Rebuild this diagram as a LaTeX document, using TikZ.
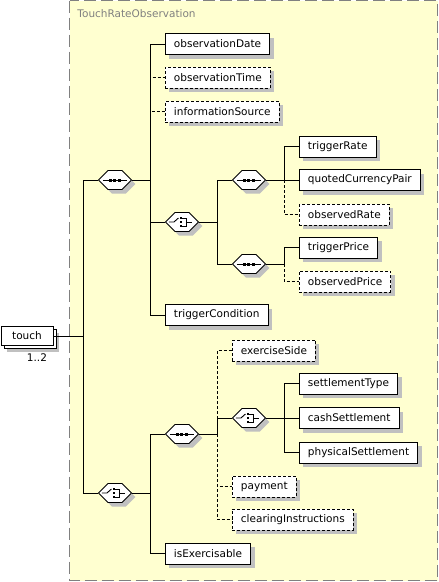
\documentclass[tikz,border=0pt]{standalone}
\usepackage{fontspec}
\setmainfont{DejaVu Sans}
\usetikzlibrary{shapes.misc,shadows}
\definecolor{schemabg}{RGB}{255,255,208}
\definecolor{framegray}{RGB}{128,128,128}
\definecolor{shadowgray}{RGB}{192,192,192}
\begin{document}
\begin{tikzpicture}[x=1pt, y=-1pt, line width=.9pt, line join=miter,
	font=\fontsize{10.5}{12}\selectfont,
	opt/.style={dash pattern=on 3pt off 2pt},
	boxshadow/.style={drop shadow={shadow xshift=4pt, shadow yshift=-4pt, fill=shadowgray, draw=none, opacity=1}},
	elem/.style={draw, fill=white, anchor=west, minimum height=21pt, inner xsep=8.5pt, inner ysep=0pt, boxshadow},
	optelem/.style={elem, opt},
	comp/.style={draw, fill=white, anchor=west, chamfered rectangle, chamfered rectangle angle=45,
		chamfered rectangle sep=5pt, minimum size=0pt, inner xsep=12pt, inner ysep=4.5pt, boxshadow},
	seqbox/.style={comp, path picture={
		\coordinate (pc) at (path picture bounding box.center);
		\draw[black] ([xshift=-12pt]pc) -- ([xshift=12pt]pc);
		\foreach \d in {-4.5,0,4.5} \fill[black] ([xshift=\d pt]pc) +(-1.5pt,-1.5pt) rectangle +(1.5pt,1.5pt);
	}},
	choicebox/.style={comp, path picture={
		\coordinate (pc) at (path picture bounding box.center);
		\draw[black] ([xshift=-13pt]pc) -- ([xshift=-8pt]pc) -- ([xshift=-3.5pt,yshift=4pt]pc);
		\foreach \d in {-4,0,4} \fill[black] ([xshift=-1pt,yshift=\d pt]pc) +(-1.4pt,-1.4pt) rectangle +(1.4pt,1.4pt);
		\draw[black] ([xshift=0pt,yshift=4pt]pc) -| ([xshift=4pt,yshift=-4pt]pc) -- ([xshift=0pt,yshift=-4pt]pc);
		\draw[black] ([xshift=4pt]pc) -- ([xshift=10pt]pc);
	}}]
	\useasboundingbox (0,0) rectangle (439,582);
	% complex type frame
	\draw[framegray, fill=schemabg, line width=1.3pt, dash pattern=on 12pt off 5pt] (69.7,0.7) rectangle (437.7,580.7);
	\node[anchor=west, inner sep=0pt, text=framegray] (typename) at (77,14) {TouchRateObservation};
	% element with max occurs 2
	\node[draw, fill=white, anchor=west, minimum width=52pt, minimum height=19pt, inner sep=0pt,
		drop shadow={shadow xshift=6.5pt, shadow yshift=-6.5pt, fill=shadowgray, draw=none, opacity=1},
		copy shadow={shadow xshift=3pt, shadow yshift=-3pt, draw=black, fill=white}] (touch) at (0.5,336) {touch};
	\node[inner sep=0pt] (touchocc) at (37,358) {1..2};
	% compositors
	\node[seqbox] (seq1) at (98,180) {};
	\node[choicebox] (ch2) at (98,493) {};
	\node[choicebox] (ch1) at (165,222) {};
	\node[seqbox] (seq2) at (232,180) {};
	\node[seqbox] (seq3) at (232,264) {};
	\node[seqbox] (seq4) at (165,434) {};
	\node[choicebox] (ch3) at (232,418) {};
	% elements
	\node[elem] (obsDate) at (165,44) {observationDate};
	\node[optelem] (obsTime) at (165,77.5) {observationTime};
	\node[optelem] (infoSource) at (165,111.5) {informationSource};
	\node[elem] (trigCond) at (165,315) {triggerCondition};
	\node[elem] (trigRate) at (299,146.5) {triggerRate};
	\node[elem] (quotedPair) at (299,180) {quotedCurrencyPair};
	\node[optelem] (obsRate) at (299,214.5) {observedRate};
	\node[elem] (trigPrice) at (299,247.5) {triggerPrice};
	\node[optelem] (obsPrice) at (299,281.5) {observedPrice};
	\node[optelem] (exSide) at (232,350.5) {exerciseSide};
	\node[elem] (settleType) at (299,383.5) {settlementType};
	\node[elem] (cashSettle) at (299,418) {cashSettlement};
	\node[elem] (physSettle) at (299,452.5) {physicalSettlement};
	\node[optelem] (payment) at (232,486.5) {payment};
	\node[optelem] (clearInstr) at (232,519.5) {clearingInstructions};
	\node[elem] (isExer) at (165,553.5) {isExercisable};
	% junctions
	\coordinate (j0) at (83,336);
	\coordinate (j1) at (150,180);
	\coordinate (j2) at (150,493);
	\coordinate (j3) at (217,222);
	\coordinate (j4) at (284,180);
	\coordinate (j5) at (284,264);
	\coordinate (j6) at (217,434);
	\coordinate (j7) at (284,418);
	% connectors
	\draw (touch.east) -- (j0);
	\foreach \c in {seq1,ch2} \draw (j0) |- (\c.west);
	\draw (seq1.east) -- (j1);
	\foreach \c in {obsTime,infoSource} \draw[opt] (j1) |- (\c.west);
	\foreach \c in {obsDate,ch1,trigCond} \draw (j1) |- (\c.west);
	\draw (ch1.east) -- (j3);
	\foreach \c in {seq2,seq3} \draw (j3) |- (\c.west);
	\draw (seq2.east) -- (j4);
	\draw[opt] (j4) |- (obsRate.west);
	\foreach \c in {trigRate,quotedPair} \draw (j4) |- (\c.west);
	\draw (seq3.east) -- (j5);
	\draw[opt] (j5) |- (obsPrice.west);
	\draw (j5) |- (trigPrice.west);
	\draw (ch2.east) -- (j2);
	\foreach \c in {seq4,isExer} \draw (j2) |- (\c.west);
	\draw (seq4.east) -- (j6);
	\foreach \c in {exSide,payment,clearInstr} \draw[opt] (j6) |- (\c.west);
	\draw (j6) |- (ch3.west);
	\draw (ch3.east) -- (j7);
	\foreach \c in {settleType,cashSettle,physSettle} \draw (j7) |- (\c.west);
\end{tikzpicture}
\end{document}
